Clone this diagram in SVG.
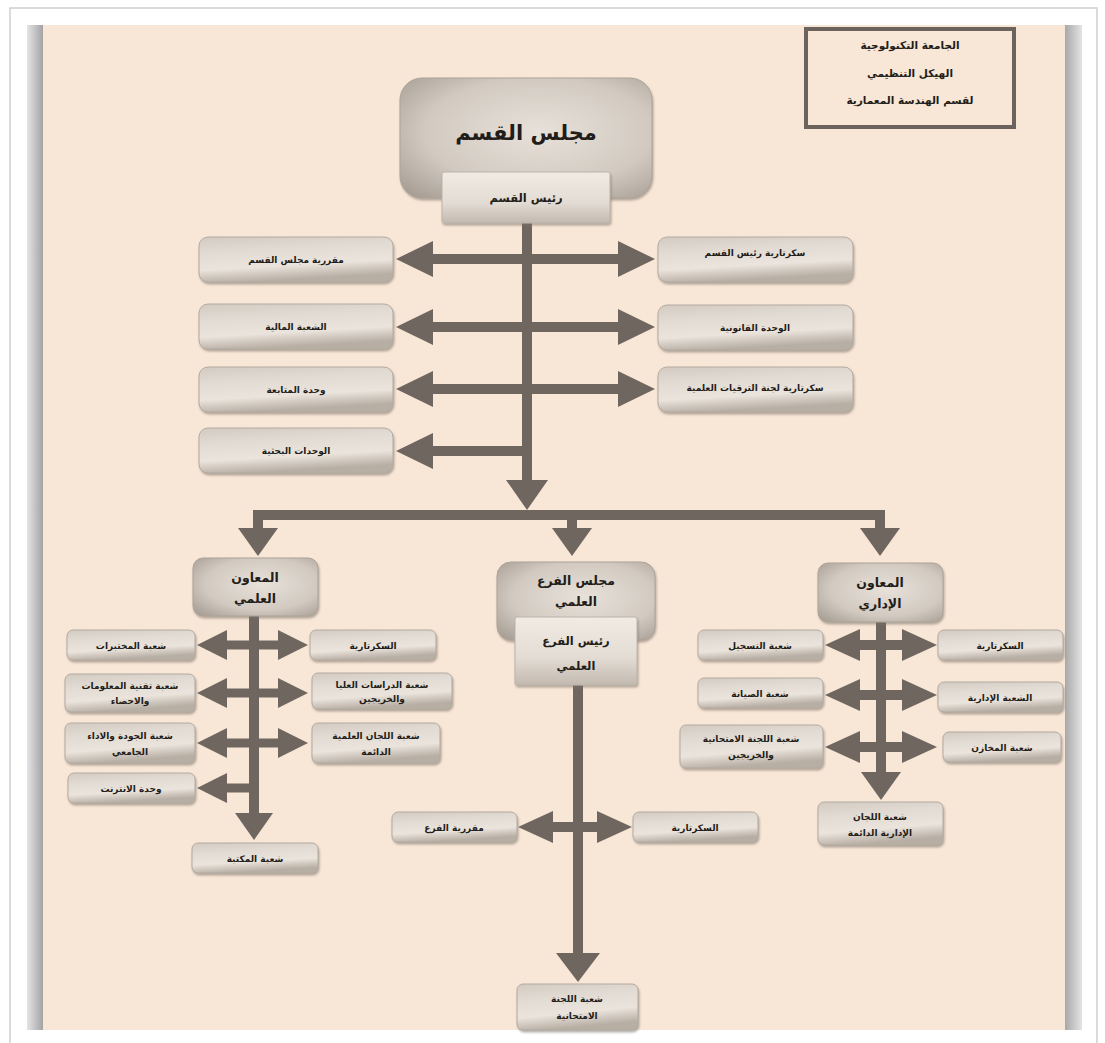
<svg xmlns="http://www.w3.org/2000/svg" width="1105" height="1043" viewBox="0 0 1105 1043">
<defs>
<style>
.bx{fill:url(#gBox);stroke:#b3aaa0;stroke-width:1;filter:url(#sh)}
.bh{fill:url(#gHead);stroke:#bdb4aa;stroke-width:1;filter:url(#sh)}
.bb{fill:url(#gBig);stroke:#aca399;stroke-width:1;filter:url(#sh)}
text{font-family:"DejaVu Sans","Noto Sans",sans-serif;font-weight:bold;fill:#221d19;text-anchor:middle}
.s{font-size:9px}
.m{font-size:11.5px}
.l{font-size:12.5px}
.ar{fill:#6f675f}
</style>
<linearGradient id="gBox" x1="0" y1="0" x2="0.25" y2="1">
<stop offset="0" stop-color="#d3cbc2"/>
<stop offset="0.35" stop-color="#e2dbd3"/>
<stop offset="0.7" stop-color="#ebe4dc"/>
<stop offset="1" stop-color="#b7aea4"/>
</linearGradient>
<linearGradient id="gHead" x1="0" y1="0" x2="0" y2="1">
<stop offset="0" stop-color="#f1ebe4"/>
<stop offset="0.6" stop-color="#e3dcd4"/>
<stop offset="1" stop-color="#c2b9af"/>
</linearGradient>
<radialGradient id="gBig" cx="55%" cy="45%" r="75%">
<stop offset="0" stop-color="#e8e1d9"/>
<stop offset="0.6" stop-color="#d2cac1"/>
<stop offset="1" stop-color="#a39a90"/>
</radialGradient>
<linearGradient id="gL" x1="0" y1="0" x2="1" y2="0">
<stop offset="0" stop-color="#e4e4e8"/>
<stop offset="1" stop-color="#a3a3a3"/>
</linearGradient>
<linearGradient id="gR" x1="0" y1="0" x2="1" y2="0">
<stop offset="0" stop-color="#a8a8a8"/>
<stop offset="1" stop-color="#e4e4e6"/>
</linearGradient>
<filter id="sh" x="-10%" y="-10%" width="125%" height="135%">
<feDropShadow dx="1" dy="2" stdDeviation="1.3" flood-color="#7a7168" flood-opacity="0.55"/>
</filter>
</defs>

<g id="frame">
<rect x="0" y="0" width="1105" height="1043" fill="#ffffff"/>
<path d="M10,1043 V8 H1097 V1043" fill="none" stroke="#cfcfcf" stroke-width="1.5"/>
<rect x="27" y="25" width="16" height="1005" fill="url(#gL)"/>
<rect x="1065" y="25" width="17" height="1005" fill="url(#gR)"/>
<rect x="43" y="25" width="1022" height="1005" fill="#f8e6d6"/>
</g>

<g id="title">
<rect x="806" y="29" width="208" height="98" fill="none" stroke="#6b635c" stroke-width="4"/>
<text class="s" x="910" y="49" style="font-size:10.5px">الجامعة التكنولوجية</text>
<text class="s" x="910" y="77" style="font-size:10.5px">الهيكل التنظيمي</text>
<text class="s" x="910" y="104" style="font-size:10.5px">لقسم الهندسة المعمارية</text>
</g>

<g id="connectors">
<rect class="ar" x="522" y="223" width="10" height="260"/>
<polygon class="ar" points="506,480 548,480 527,510"/>
<polygon class="ar" points="396,259 433,241 433,254 618,254 618,241 655,259 618,277 618,264 433,264 433,277"/>
<polygon class="ar" points="396,327 433,309 433,322 618,322 618,309 655,327 618,345 618,332 433,332 433,345"/>
<polygon class="ar" points="396,389 433,371 433,384 618,384 618,371 655,389 618,407 618,394 433,394 433,407"/>
<polygon class="ar" points="396,451 433,433 433,446 532,446 532,456 433,456 433,469"/>
<rect class="ar" x="253" y="510" width="632" height="10"/>
<rect class="ar" x="253" y="518" width="10" height="12"/>
<rect class="ar" x="567" y="518" width="10" height="12"/>
<rect class="ar" x="875" y="518" width="10" height="12"/>
<polygon class="ar" points="238,528 278,528 258,556"/>
<polygon class="ar" points="552,528 592,528 572,556"/>
<polygon class="ar" points="860,528 900,528 880,556"/>

<rect class="ar" x="249" y="616" width="10" height="200"/>
<polygon class="ar" points="235,813 273,813 254,840"/>
<polygon class="ar" points="197,645 227,630 227,640.5 278,640.5 278,630 308,645 278,660 278,649.5 227,649.5 227,660"/>
<polygon class="ar" points="197,693 227,678 227,688.5 278,688.5 278,678 308,693 278,708 278,697.5 227,697.5 227,708"/>
<polygon class="ar" points="197,743 227,728 227,738.5 278,738.5 278,728 308,743 278,758 278,747.5 227,747.5 227,758"/>
<polygon class="ar" points="197,788 227,773 227,783.5 259,783.5 259,792.5 227,792.5 227,803"/>

<rect class="ar" x="573" y="685" width="10" height="270"/>
<polygon class="ar" points="556,953 600,953 578,982"/>
<polygon class="ar" points="518,827 553,811 553,822 597,822 597,811 632,827 597,843 597,832 553,832 553,843"/>

<rect class="ar" x="876" y="622" width="10" height="153"/>
<polygon class="ar" points="861,772 901,772 881,800"/>
<polygon class="ar" points="825,645 860,629 860,640 902,640 902,629 937,645 902,661 902,650 860,650 860,661"/>
<polygon class="ar" points="825,695 860,679 860,690 902,690 902,679 937,695 902,711 902,700 860,700 860,711"/>
<polygon class="ar" points="825,747 860,731 860,742 902,742 902,731 937,747 902,763 902,752 860,752 860,763"/>
</g>

<g id="n-council"><rect class="bb" x="400" y="78" width="252" height="120" rx="22"/><text x="526" y="140" style="font-size:21px">مجلس القسم</text></g>
<g id="n-head"><rect class="bh" x="442" y="172" width="168" height="51" rx="2"/><text class="m" x="526" y="202">رئيس القسم</text></g>

<g id="n-l1"><rect class="bx" x="199" y="237" width="194" height="45" rx="9"/><text class="s" x="296" y="263">مقررية مجلس القسم</text></g>
<g id="n-l2"><rect class="bx" x="199" y="304" width="194" height="45" rx="9"/><text class="s" x="296" y="330">الشعبة المالية</text></g>
<g id="n-l3"><rect class="bx" x="199" y="367" width="194" height="45" rx="9"/><text class="s" x="296" y="393">وحدة المتابعة</text></g>
<g id="n-l4"><rect class="bx" x="199" y="428" width="194" height="45" rx="9"/><text class="s" x="296" y="454">الوحدات البحثية</text></g>
<g id="n-r1"><rect class="bx" x="658" y="237" width="195" height="45" rx="9"/><text class="s" x="755" y="256">سكرتارية رئيس القسم</text></g>
<g id="n-r2"><rect class="bx" x="658" y="305" width="195" height="45" rx="9"/><text class="s" x="755" y="331">الوحدة القانونية</text></g>
<g id="n-r3"><rect class="bx" x="658" y="367" width="195" height="45" rx="9"/><text class="s" x="755" y="391">سكرتارية لجنة الترقيات العلمية</text></g>

<g id="n-sci"><rect class="bb" x="193" y="558" width="125" height="58" rx="10"/><text class="l" x="255" y="582">المعاون</text><text class="l" x="255" y="603">العلمي</text></g>
<g id="n-sci-l1"><rect class="bx" x="67" y="630" width="128" height="30" rx="6"/><text class="s" x="131" y="649">شعبة المختبرات</text></g>
<g id="n-sci-l2"><rect class="bx" x="65" y="674" width="130" height="38" rx="6"/><text class="s" x="130" y="689">شعبة تقنية المعلومات</text><text class="s" x="130" y="704">والاحصاء</text></g>
<g id="n-sci-l3"><rect class="bx" x="65" y="723" width="130" height="40" rx="6"/><text class="s" x="130" y="739">شعبة الجودة والاداء</text><text class="s" x="130" y="755">الجامعي</text></g>
<g id="n-sci-l4"><rect class="bx" x="68" y="773" width="127" height="30" rx="6"/><text class="s" x="131" y="792">وحدة الانترنت</text></g>
<g id="n-sci-r1"><rect class="bx" x="310" y="630" width="126" height="30" rx="6"/><text class="s" x="373" y="649">السكرتارية</text></g>
<g id="n-sci-r2"><rect class="bx" x="312" y="673" width="140" height="36" rx="6"/><text class="s" x="382" y="688">شعبة الدراسات العليا</text><text class="s" x="382" y="702">والخريجين</text></g>
<g id="n-sci-r3"><rect class="bx" x="312" y="723" width="128" height="40" rx="6"/><text class="s" x="376" y="739">شعبة اللجان العلمية</text><text class="s" x="376" y="755">الدائمة</text></g>
<g id="n-sci-b"><rect class="bx" x="192" y="843" width="126" height="30" rx="6"/><text class="s" x="255" y="862">شعبة المكتبة</text></g>

<g id="n-branch"><rect class="bb" x="497" y="562" width="158" height="78" rx="14"/><text class="l" x="576" y="585">مجلس الفرع</text><text class="l" x="576" y="606">العلمي</text></g>
<g id="n-branch-head"><rect class="bh" x="515" y="617" width="122" height="68" rx="2"/><text class="m" x="576" y="645">رئيس الفرع</text><text class="m" x="576" y="670">العلمي</text></g>
<g id="n-br-l"><rect class="bx" x="392" y="812" width="125" height="30" rx="6"/><text class="s" x="454" y="831">مقررية الفرع</text></g>
<g id="n-br-r"><rect class="bx" x="633" y="812" width="125" height="30" rx="6"/><text class="s" x="695" y="831">السكرتارية</text></g>
<g id="n-br-b"><rect class="bx" x="517" y="984" width="121" height="46" rx="6"/><text class="s" x="577" y="1002">شعبة اللجنة</text><text class="s" x="577" y="1019">الامتحانية</text></g>

<g id="n-adm"><rect class="bb" x="818" y="563" width="125" height="59" rx="10"/><text class="l" x="880" y="587">المعاون</text><text class="l" x="880" y="608">الإداري</text></g>
<g id="n-adm-l1"><rect class="bx" x="698" y="630" width="125" height="30" rx="6"/><text class="s" x="760" y="649">شعبة التسجيل</text></g>
<g id="n-adm-l2"><rect class="bx" x="698" y="678" width="125" height="30" rx="6"/><text class="s" x="760" y="697">شعبة الصيانة</text></g>
<g id="n-adm-l3"><rect class="bx" x="680" y="725" width="143" height="43" rx="6"/><text class="s" x="751" y="742">شعبة اللجنة الامتحانية</text><text class="s" x="751" y="758">والخريجين</text></g>
<g id="n-adm-r1"><rect class="bx" x="938" y="630" width="125" height="30" rx="6"/><text class="s" x="1000" y="649">السكرتارية</text></g>
<g id="n-adm-r2"><rect class="bx" x="938" y="682" width="125" height="30" rx="6"/><text class="s" x="1000" y="701">الشعبة الإدارية</text></g>
<g id="n-adm-r3"><rect class="bx" x="943" y="732" width="118" height="30" rx="6"/><text class="s" x="1002" y="751">شعبة المخازن</text></g>
<g id="n-adm-b"><rect class="bx" x="818" y="802" width="125" height="43" rx="6"/><text class="s" x="880" y="820">شعبة اللجان</text><text class="s" x="880" y="836">الإدارية الدائمة</text></g>
</svg>
